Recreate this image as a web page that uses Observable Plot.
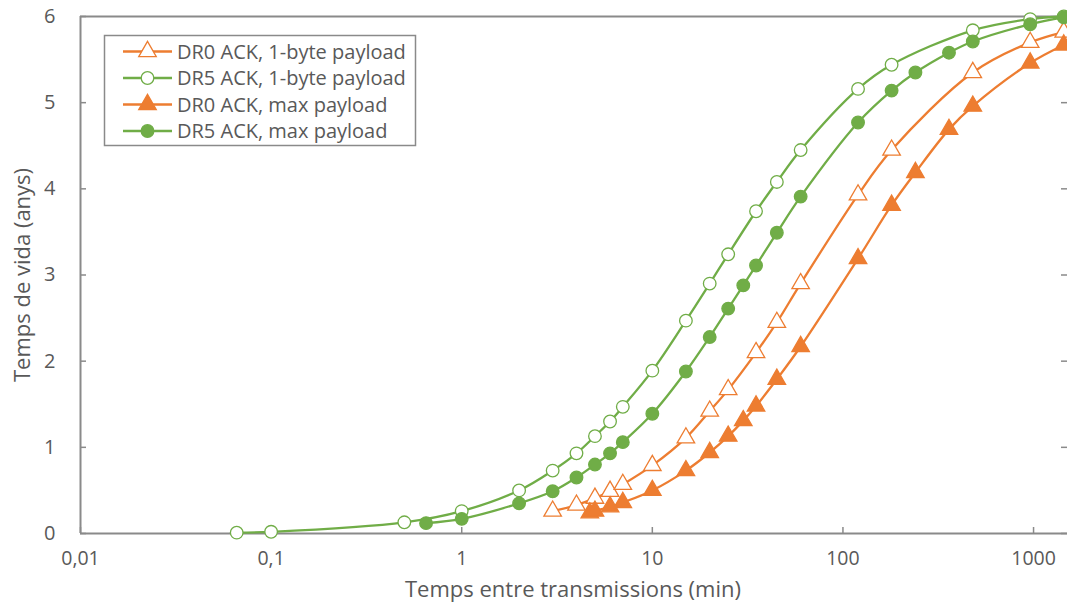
<!DOCTYPE html>
<html>
<head>
<meta charset="utf-8">
<script src="https://cdn.jsdelivr.net/npm/d3@7"></script>
<script src="https://cdn.jsdelivr.net/npm/@observablehq/plot@0.6"></script>
<style>
  html, body { margin: 0; padding: 0; background: #fff; overflow: hidden; }
  #wrap { position: relative; width: 1067px; height: 603px; }
  #legend { position: absolute; left: 0; top: 0; }
</style>
</head>
<body>
<div id="wrap"></div>
<script>
// ---- data ----
const dr0OneX = [3, 4, 5, 6, 7, 10, 15, 20, 25, 35, 45, 60, 120, 180, 480, 960, 1440];
const dr0OneY = [0.26, 0.33, 0.41, 0.49, 0.57, 0.79, 1.11, 1.42, 1.67, 2.10, 2.45, 2.90, 3.93, 4.45, 5.35, 5.70, 5.82];

const dr5OneX = [0.066, 0.1, 0.5, 1, 2, 3, 4, 5, 6, 7, 10, 15, 20, 25, 35, 45, 60, 120, 180, 480, 960, 1440];
const dr5OneY = [0.01, 0.02, 0.13, 0.26, 0.50, 0.73, 0.93, 1.13, 1.30, 1.47, 1.89, 2.47, 2.90, 3.24, 3.74, 4.08, 4.45, 5.16, 5.44, 5.84, 5.97, 6.00];

const dr0MaxX = [4.7, 5, 6, 7, 10, 15, 20, 25, 30, 35, 45, 60, 120, 180, 240, 360, 480, 960, 1440];
const dr0MaxY = [0.24, 0.26, 0.31, 0.36, 0.50, 0.73, 0.94, 1.13, 1.31, 1.48, 1.79, 2.17, 3.19, 3.81, 4.19, 4.69, 4.96, 5.46, 5.67];

const dr5MaxX = [0.65, 1, 2, 3, 4, 5, 6, 7, 10, 15, 20, 25, 30, 35, 45, 60, 120, 180, 240, 360, 480, 960, 1440];
const dr5MaxY = [0.12, 0.17, 0.35, 0.49, 0.65, 0.80, 0.93, 1.06, 1.39, 1.88, 2.28, 2.61, 2.88, 3.11, 3.49, 3.91, 4.77, 5.14, 5.35, 5.58, 5.71, 5.91, 5.99];

const seriesNames = ["DR0 ACK, 1-byte payload", "DR5 ACK, 1-byte payload", "DR0 ACK, max payload", "DR5 ACK, max payload"];
const xTicks = [0.01, 0.1, 1, 10, 100, 1000];
const yTicks = [0, 1, 2, 3, 4, 5, 6];

// ---- styles ----
const ORANGE = "#ED7D31";
const GREEN = "#70AD47";
const AXIS = "#8a8a8a";
const TEXT = "#595959";
const FONT = "'Open Sans', sans-serif";

const series = [
  {name: seriesNames[0], xs: dr0OneX, ys: dr0OneY, color: ORANGE, symbol: "triangle", open: true},
  {name: seriesNames[1], xs: dr5OneX, ys: dr5OneY, color: GREEN, symbol: "circle", open: true},
  {name: seriesNames[2], xs: dr0MaxX, ys: dr0MaxY, color: ORANGE, symbol: "triangle", open: false},
  {name: seriesNames[3], xs: dr5MaxX, ys: dr5MaxY, color: GREEN, symbol: "circle", open: false}
].map(s => ({...s, data: s.xs.map((x, i) => ({x, y: s.ys[i]}))}));

const W = 1067, H = 603;
const mL = 80, mR = 0, mT = 16, mB = 70;
const fw = W - mL - mR, fh = H - mT - mB;
const RT = 6.5, RC = 6.3;

const marks = [];
// frame lines (top, bottom, left)
marks.push(Plot.ruleY([6], {stroke: AXIS, strokeWidth: 2}));
marks.push(Plot.ruleY([0], {stroke: AXIS, strokeWidth: 2}));
marks.push(Plot.ruleX([0.01], {stroke: AXIS, strokeWidth: 2}));
// inside tick marks
marks.push(Plot.ruleX(xTicks, {stroke: AXIS, strokeWidth: 1.5, insetTop: fh - 6}));
marks.push(Plot.ruleY(yTicks, {stroke: AXIS, strokeWidth: 1.5, insetRight: fw - 6}));
marks.push(Plot.ruleY(yTicks, {stroke: AXIS, strokeWidth: 1.5, insetLeft: fw - 6}));

for (const s of series) {
  marks.push(Plot.line(s.data, {x: "x", y: "y", stroke: s.color, strokeWidth: 2.3, curve: "catmull-rom"}));
}
for (const s of series) {
  marks.push(Plot.dot(s.data, {
    x: "x", y: "y",
    symbol: s.symbol,
    r: s.symbol === "triangle" ? RT : RC,
    stroke: s.color,
    strokeWidth: 1.3,
    fill: s.open ? "white" : s.color
  }));
}

marks.push(Plot.axisX({ticks: xTicks, tickSize: 0, tickPadding: 18, tickFormat: d => String(d).replace(".", ","),
  label: null, fontSize: 19.5, color: TEXT}));
marks.push(Plot.axisY({ticks: yTicks, tickSize: 0, tickPadding: 25, tickFormat: d => String(d), label: null, fontSize: 20, color: TEXT}));

const chart = Plot.plot({
  width: W, height: H,
  marginLeft: mL, marginRight: mR, marginTop: mT, marginBottom: mB,
  style: {fontFamily: FONT, fontSize: "20px", color: TEXT, background: "white", overflow: "visible"},
  x: {type: "log", domain: [0.01, 1507]},
  y: {domain: [0, 6]},
  marks
});

const wrap = document.getElementById("wrap");
wrap.appendChild(chart);

// axis titles
const svg = d3.select(chart);
svg.append("text")
  .attr("x", 573).attr("y", 597)
  .attr("text-anchor", "middle")
  .attr("fill", TEXT).attr("font-size", 22).attr("font-family", FONT)
  .text("Temps entre transmissions (min)");
svg.append("text")
  .attr("transform", "translate(30,275) rotate(-90)")
  .attr("text-anchor", "middle")
  .attr("fill", TEXT).attr("font-size", 22).attr("font-family", FONT)
  .text("Temps de vida (anys)");

// legend overlay
const leg = d3.select(wrap).append("svg")
  .attr("id", "legend")
  .attr("width", W).attr("height", H)
  .style("pointer-events", "none");
leg.append("rect")
  .attr("x", 104.5).attr("y", 35.5).attr("width", 311).attr("height", 110)
  .attr("fill", "white").attr("stroke", AXIS).attr("stroke-width", 1.5);
series.forEach((s, i) => {
  const cy = 51.5 + i * 26.5;
  leg.append("line")
    .attr("x1", 123).attr("x2", 172).attr("y1", cy).attr("y2", cy)
    .attr("stroke", s.color).attr("stroke-width", 2.3);
  const sym = s.symbol === "triangle" ? d3.symbolTriangle : d3.symbolCircle;
  const r = s.symbol === "triangle" ? RT : RC;
  leg.append("path")
    .attr("d", d3.symbol(sym, Math.PI * r * r)())
    .attr("transform", `translate(147.5,${cy})`)
    .attr("fill", s.open ? "white" : s.color)
    .attr("stroke", s.color).attr("stroke-width", 1.3);
  leg.append("text")
    .attr("x", 177).attr("y", cy).attr("dy", "0.35em")
    .attr("fill", TEXT).attr("font-size", 20).attr("font-family", FONT)
    .text(s.name);
});
</script>
</body>
</html>
